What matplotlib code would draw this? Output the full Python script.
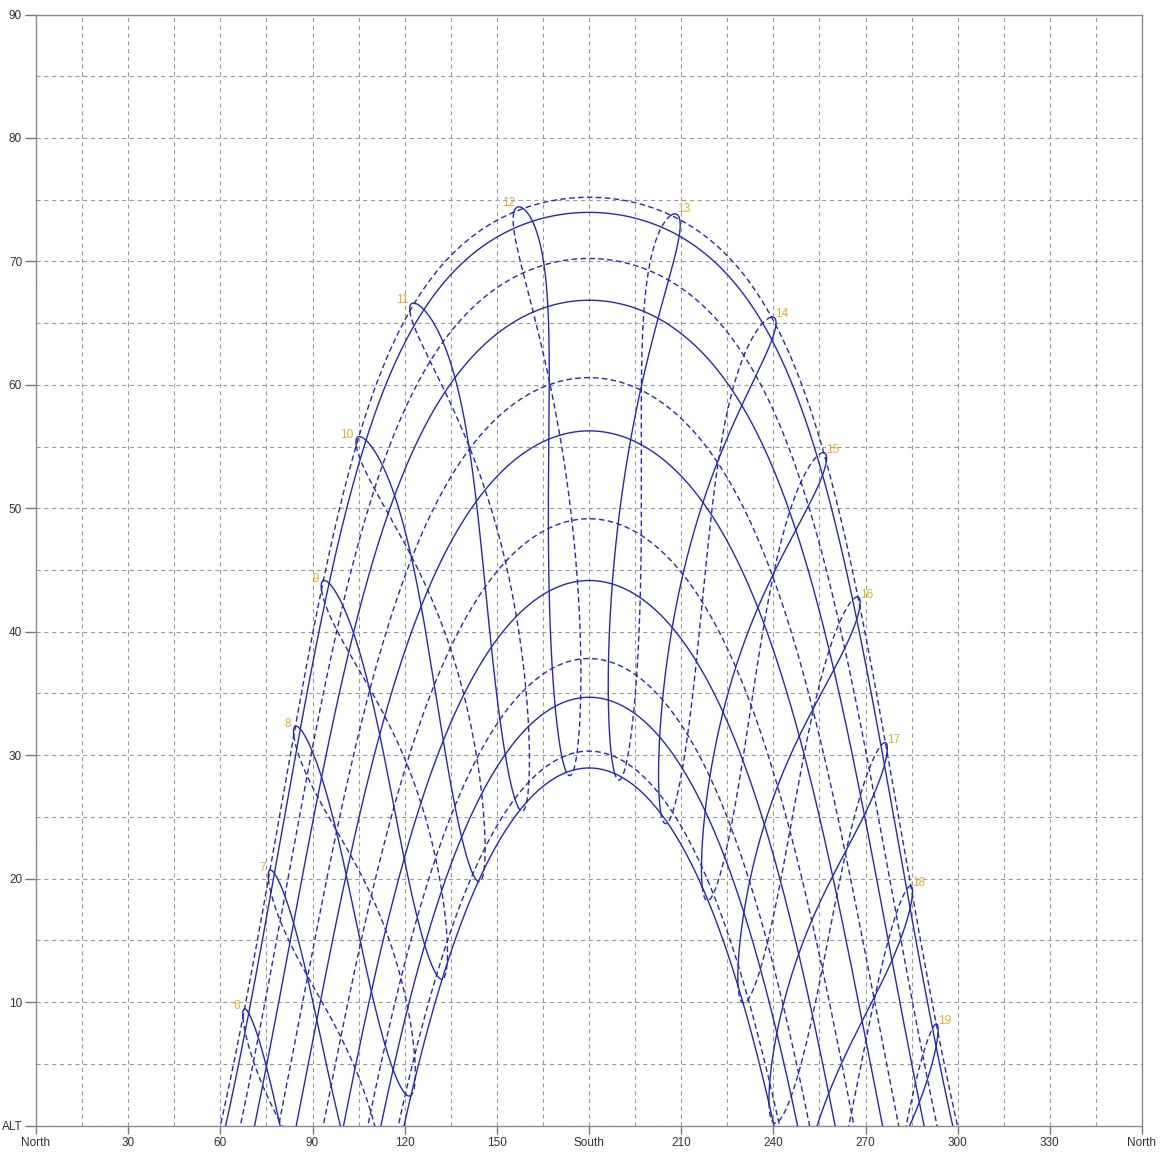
import numpy as np
import matplotlib.pyplot as plt

plt.rcParams['font.family'] = ['Liberation Sans', 'DejaVu Sans']
plt.rcParams['lines.scale_dashes'] = False

# site, read from the noon altitudes and the hour labels
lat = 37.98
lon = 23.73
tz = 2

# one path per month (1st day, day of year); Jan-Jun solid, Jul-Dec dashed
month_days = [1, 32, 60, 91, 121, 152, 182, 213, 244, 274, 305, 335]
month_style = ['-', '-', '-', '-', '-', '-', '--', '--', '--', '--', '--', '--']

# clock hours with an analemma, label put at the solstice end
hours = [6, 7, 8, 9, 10, 11, 12, 13, 14, 15, 16, 17, 18, 19]
label_day = 172

x_ticks = [0, 30, 60, 90, 120, 150, 180, 210, 240, 270, 300, 330, 360]
x_labels = ['North', '30', '60', '90', '120', '150', 'South', '210', '240', '270', '300', '330', 'North']
y_ticks = [0, 10, 20, 30, 40, 50, 60, 70, 80, 90]
y_labels = ['ALT', '10', '20', '30', '40', '50', '60', '70', '80', '90']

line_col = '#2626c2'
lab_col = '#f0a830'
grid_col = '#9a9a9a'
dash = (0, (4, 2.4))


def sun_pos(doy, hrs):
    g = 2 * np.pi / 365 * (doy - 1 + (hrs - 12) / 24)
    eot = 229.18 * (0.000075 + 0.001868 * np.cos(g) - 0.032077 * np.sin(g)
                    - 0.014615 * np.cos(2 * g) - 0.040849 * np.sin(2 * g))
    dec = (0.006918 - 0.399912 * np.cos(g) + 0.070257 * np.sin(g)
           - 0.006758 * np.cos(2 * g) + 0.000907 * np.sin(2 * g)
           - 0.002697 * np.cos(3 * g) + 0.00148 * np.sin(3 * g))
    tst = hrs * 60 + eot + 4 * lon - 60 * tz
    ha = np.radians(tst / 4 - 180)
    la = np.radians(lat)
    alt = np.degrees(np.arcsin(np.sin(la) * np.sin(dec) + np.cos(la) * np.cos(dec) * np.cos(ha)))
    az = np.degrees(np.arctan2(np.sin(ha), np.cos(ha) * np.sin(la) - np.tan(dec) * np.cos(la))) + 180
    return az, alt


fig = plt.figure(figsize=(11.62, 11.57), dpi=100)
ax = fig.add_axes([36 / 1162, 31.5 / 1157, 1106 / 1162, 1111 / 1157])

# day paths
t = np.linspace(0, 24, 2881)
for d, ls in zip(month_days, month_style):
    az, alt = sun_pos(d, t)
    alt = np.where(alt < -3, np.nan, alt)
    ax.plot(az, alt, color=line_col, lw=1.0, ls=ls if ls == '-' else dash, zorder=3)

# hour analemmas
days = np.linspace(1, 366, 1461)
for h in hours:
    az, alt = sun_pos(days, np.full_like(days, h, dtype=float))
    first = days <= 182
    second = days >= 182
    ax.plot(az[first], alt[first], color=line_col, lw=1.0, zorder=3)
    ax.plot(az[second], alt[second], color=line_col, lw=1.0, ls=dash, zorder=3)
    la_az, la_alt = sun_pos(label_day, float(h))
    if h <= 12:
        ax.annotate(str(h), (la_az, la_alt), xytext=(-2, 3), textcoords='offset points',
                    ha='right', va='center', fontsize=8.5, color=lab_col)
    else:
        ax.annotate(str(h), (la_az, la_alt), xytext=(0, 4), textcoords='offset points',
                    ha='left', va='center', fontsize=8.5, color=lab_col)

ax.set_xlim(0, 360)
ax.set_ylim(0, 90)
ax.set_xticks(x_ticks)
ax.set_xticklabels(x_labels)
ax.set_xticks(np.arange(0, 361, 15), minor=True)
ax.set_yticks(y_ticks)
ax.set_yticklabels(y_labels)
ax.set_yticks(np.arange(0, 91, 5), minor=True)

ax.grid(which='both', color=grid_col, lw=0.8, ls=(0, (3, 2.6)), zorder=0)
ax.set_axisbelow(True)

for s in ax.spines.values():
    s.set_color('#8c8c8c')
    s.set_linewidth(1.0)

ax.tick_params(axis='x', which='major', direction='out', length=6, width=1, color='#7a7a7a',
               labelsize=8.5, labelcolor='#333333', pad=2)
ax.tick_params(axis='y', which='major', direction='out', length=8, width=1, color='#7a7a7a',
               labelsize=8.5, labelcolor='#333333', pad=2)
ax.tick_params(which='minor', length=0)

fig.savefig('out.png', dpi=100)
